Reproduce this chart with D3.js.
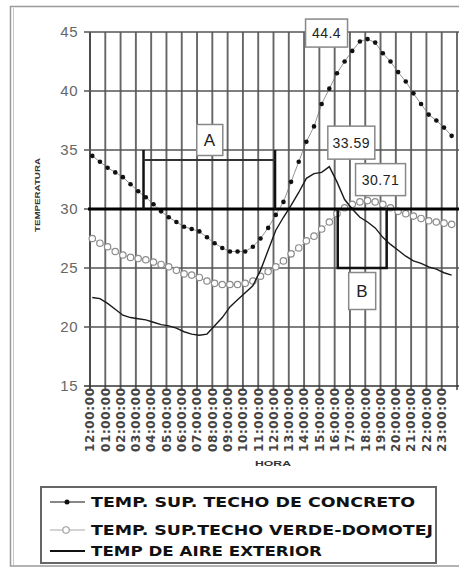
<!DOCTYPE html>
<html>
<head>
<meta charset="utf-8">
<script src="https://cdn.jsdelivr.net/npm/d3@7"></script>
<style>
  html, body { margin: 0; padding: 0; background: #fff; }
  svg { display: block; }
  text { font-family: "Liberation Sans", Arial, sans-serif; }
</style>
</head>
<body>
<script>
// Half-hourly surface and air temperatures (°C) over one day
const concreteRoof = [
  34.5, 34.0, 33.5, 33.1, 32.7, 32.1, 31.5, 31.0, 30.4, 29.8,
  29.3, 28.9, 28.5, 28.3, 28.1, 27.6, 27.1, 26.7, 26.4, 26.4,
  26.4, 26.8, 27.5, 28.4, 29.5, 30.6, 32.3, 34.0, 35.7, 37.0,
  38.9, 40.2, 41.5, 42.5, 43.4, 44.2, 44.4, 44.1, 43.2, 42.5,
  41.6, 40.8, 39.8, 38.9, 38.0, 37.5, 36.9, 36.2
];
const greenRoof = [
  27.5, 27.1, 26.8, 26.4, 26.1, 25.9, 25.8, 25.7, 25.5, 25.3,
  25.1, 24.8, 24.5, 24.4, 24.2, 23.9, 23.7, 23.6, 23.6, 23.6,
  23.7, 23.9, 24.3, 24.7, 25.1, 25.6, 26.2, 26.7, 27.3, 27.7,
  28.3, 28.9, 29.6, 30.1, 30.4, 30.6, 30.71, 30.6, 30.4, 30.1,
  29.8, 29.6, 29.4, 29.2, 29.0, 28.9, 28.8, 28.7
];
const airTemp = [
  22.5, 22.4, 22.0, 21.5, 21.0, 20.8, 20.7, 20.6, 20.4, 20.2,
  20.1, 19.9, 19.6, 19.4, 19.3, 19.4, 20.1, 20.8, 21.7, 22.3,
  22.9, 23.5, 24.8, 26.5, 28.2, 29.3, 30.3, 31.4, 32.6, 33.0,
  33.1, 33.59, 32.3, 30.8, 30.0, 29.3, 28.9, 28.4, 27.6, 27.0,
  26.5, 26.0, 25.6, 25.4, 25.1, 24.9, 24.6, 24.4
];
const hourLabels = [
  "12:00:00", "01:00:00", "02:00:00", "03:00:00", "04:00:00", "05:00:00",
  "06:00:00", "07:00:00", "08:00:00", "09:00:00", "10:00:00", "11:00:00",
  "12:00:00", "13:00:00", "14:00:00", "15:00:00", "16:00:00", "17:00:00",
  "18:00:00", "19:00:00", "20:00:00", "21:00:00", "22:00:00", "23:00:00"
];
const tempTicks = [15, 20, 25, 30, 35, 40, 45];
const comfortLimit = 30;
const legendNames = [
  "TEMP. SUP. TECHO DE CONCRETO",
  "TEMP. SUP.TECHO VERDE-DOMOTEJ",
  "TEMP DE AIRE EXTERIOR"
];
// Highlighted intervals (hours) and their letters
const spanA = { from: 3.5, to: 12.1, top: 35, bar: 34.15, bottom: 30, name: "A" };
const spanB = { from: 16.2, to: 19.4, top: 30, bottom: 25, name: "B" };

const W = 459, H = 568;
const svg = d3.select("body").append("svg").attr("width", W).attr("height", H);

// outer frame
svg.append("rect").attr("x", 10.5).attr("y", 6.5).attr("width", 470).attr("height", 559.5)
  .attr("fill", "none").attr("stroke", "#9a9a9a").attr("stroke-width", 1.5);
svg.append("line").attr("x1", 13.5).attr("x2", 13.5).attr("y1", 8).attr("y2", 565)
  .attr("stroke", "#c8c8c8").attr("stroke-width", 1);

const x = d3.scaleLinear().domain([0, 24]).range([90, 457]);
const y = d3.scaleLinear().domain([15, 45]).range([386, 32]);
// readings are logged every half hour, a few minutes past the mark
const tOf = i => i / 2 + 0.15;

// vertical grid (one line per hour)
svg.append("g").selectAll("line").data(d3.range(0, 25)).join("line")
  .attr("x1", d => x(d)).attr("x2", d => x(d))
  .attr("y1", y(45)).attr("y2", y(15) + 4)
  .attr("stroke", d => d === 0 ? "#444" : "#666").attr("stroke-width", 1.9);

// horizontal grid
svg.append("g").selectAll("line").data(tempTicks).join("line")
  .attr("x1", x(0) - 6).attr("x2", W)
  .attr("y1", d => y(d)).attr("y2", d => y(d))
  .attr("stroke", d => d === 15 ? "#333" : "#555").attr("stroke-width", 1.4);

// y tick labels
svg.append("g").selectAll("text").data(tempTicks).join("text")
  .attr("x", 78).attr("y", d => y(d)).attr("dy", "0.36em")
  .attr("text-anchor", "end").attr("font-size", 15).attr("fill", "#666")
  .attr("letter-spacing", 0.5)
  .text(d => d);

// x tick labels (rotated)
svg.append("g").selectAll("text").data(hourLabels).join("text")
  .attr("transform", (d, i) => `translate(${x(i)},${y(15) + 2}) rotate(-90)`)
  .attr("dy", "0.36em").attr("text-anchor", "end")
  .style("font-family", "'DejaVu Sans', sans-serif")
  .attr("font-size", 12).attr("font-weight", "bold").attr("fill", "#444")
  .attr("textLength", 64).attr("lengthAdjust", "spacing")
  .text(d => d);

// axis titles
svg.append("text").attr("x", 273).attr("y", 466).attr("text-anchor", "middle")
  .attr("font-size", 8).attr("font-weight", "bold").attr("fill", "#333")
  .attr("textLength", 36).attr("lengthAdjust", "spacingAndGlyphs").text("HORA");
svg.append("text").attr("transform", "translate(40,195) rotate(-90)")
  .attr("text-anchor", "middle").attr("font-size", 8).attr("font-weight", "bold").attr("fill", "#333")
  .attr("textLength", 74).attr("lengthAdjust", "spacingAndGlyphs").text("TEMPERATURA");

const line = d3.line().x((d, i) => x(tOf(i))).y(d => y(d));

// green roof series: light line with open circles
svg.append("path").datum(greenRoof).attr("d", line)
  .attr("fill", "none").attr("stroke", "#b0b0b0").attr("stroke-width", 1);
svg.append("g").selectAll("circle").data(greenRoof).join("circle")
  .attr("cx", (d, i) => x(tOf(i))).attr("cy", d => y(d)).attr("r", 3.2)
  .attr("fill", "#fff").attr("stroke", "#8c8c8c").attr("stroke-width", 1.2);

// outdoor air
svg.append("path").datum(airTemp).attr("d", line)
  .attr("fill", "none").attr("stroke", "#1a1a1a").attr("stroke-width", 1.4);

// concrete roof: thin line with filled dots
svg.append("path").datum(concreteRoof).attr("d", line)
  .attr("fill", "none").attr("stroke", "#666").attr("stroke-width", 0.7);
svg.append("g").selectAll("circle").data(concreteRoof).join("circle")
  .attr("cx", (d, i) => x(tOf(i))).attr("cy", d => y(d)).attr("r", 2.3)
  .attr("fill", "#111");

// 30 °C reference line
svg.append("line").attr("x1", x(0) - 2).attr("x2", W)
  .attr("y1", y(comfortLimit)).attr("y2", y(comfortLimit))
  .attr("stroke", "#000").attr("stroke-width", 3);

// interval A bracket
const gA = svg.append("g").attr("stroke", "#111").attr("fill", "none");
gA.append("line").attr("x1", x(spanA.from)).attr("x2", x(spanA.from))
  .attr("y1", y(spanA.top)).attr("y2", y(spanA.bottom)).attr("stroke-width", 2.5);
gA.append("line").attr("x1", x(spanA.to)).attr("x2", x(spanA.to))
  .attr("y1", y(spanA.top)).attr("y2", y(spanA.bottom)).attr("stroke-width", 2.5);
gA.append("line").attr("x1", x(spanA.from)).attr("x2", x(spanA.to))
  .attr("y1", y(spanA.bar)).attr("y2", y(spanA.bar)).attr("stroke-width", 2).attr("stroke", "#333");

// interval B bracket
svg.append("path")
  .attr("d", `M${x(spanB.from)},${y(spanB.top)}V${y(spanB.bottom)}H${x(spanB.to)}V${y(spanB.top)}`)
  .attr("fill", "none").attr("stroke", "#111").attr("stroke-width", 2.5);

// boxed text helper
function boxLabel(cx, cy, w, h, txt, size) {
  const g = svg.append("g");
  g.append("rect").attr("x", cx - w / 2).attr("y", cy - h / 2).attr("width", w).attr("height", h)
    .attr("fill", "#fff").attr("stroke", "#888").attr("stroke-width", 1.5);
  g.append("text").attr("x", cx).attr("y", cy).attr("dy", "0.36em").attr("text-anchor", "middle")
    .attr("font-size", size).attr("fill", "#222").attr("letter-spacing", 0.5).text(txt);
}

boxLabel((x(spanA.from) + x(spanA.to)) / 2 + 0.5, 140, 26, 31, spanA.name, 17);
boxLabel((x(spanB.from) + x(spanB.to)) / 2, 291, 27, 37, spanB.name, 17);

// value callouts at each series peak
const peakOf = arr => d3.maxIndex(arr);
const iC = peakOf(concreteRoof), iG = peakOf(greenRoof), iA = peakOf(airTemp);
boxLabel(x(tOf(iC)) - 41, y(concreteRoof[iC]) - 6, 42, 28, concreteRoof[iC], 14);
boxLabel(x(tOf(iA)) + 22, y(airTemp[iA]) - 24, 47, 33, airTemp[iA], 14);
boxLabel(x(tOf(iG)) + 13, y(greenRoof[iG]) - 21, 50, 32, greenRoof[iG], 14);

// legend
const lg = svg.append("g");
lg.append("rect").attr("x", 41).attr("y", 487).attr("width", 395).attr("height", 76)
  .attr("fill", "#fff").attr("stroke", "#666").attr("stroke-width", 2);
const rowY = [502, 530, 551];
const textEnd = [415, 433, 322];
legendNames.forEach((name, k) => {
  const yy = rowY[k];
  lg.append("line").attr("x1", 50).attr("x2", 85).attr("y1", yy).attr("y2", yy)
    .attr("stroke", k === 1 ? "#aaa" : "#111").attr("stroke-width", k === 2 ? 1.8 : 1.2);
  if (k === 0) lg.append("circle").attr("cx", 67).attr("cy", yy).attr("r", 2.5).attr("fill", "#111");
  if (k === 1) lg.append("circle").attr("cx", 66).attr("cy", yy).attr("r", 3.2)
    .attr("fill", "#fff").attr("stroke", "#999").attr("stroke-width", 1.1);
  lg.append("text").attr("x", 91).attr("y", yy).attr("dy", "0.36em")
    .style("font-family", "'DejaVu Sans', sans-serif")
    .attr("font-size", 14).attr("font-weight", "bold").attr("fill", "#111")
    .attr("textLength", textEnd[k] - 91).attr("lengthAdjust", "spacingAndGlyphs")
    .text(name);
});
</script>
</body>
</html>
